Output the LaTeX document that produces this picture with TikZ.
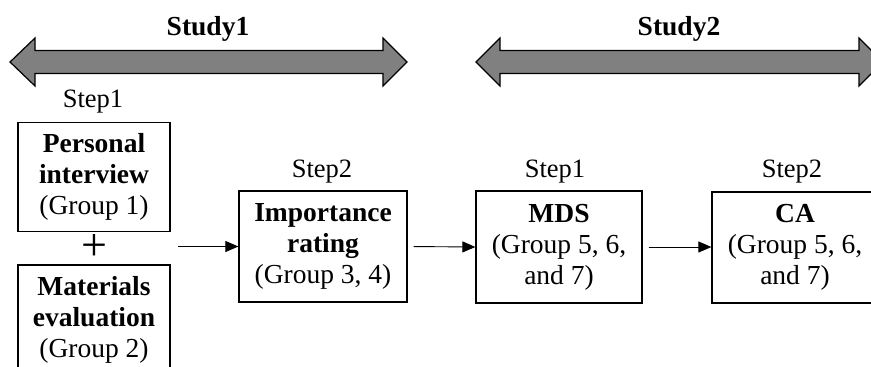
\documentclass[tikz,border=0pt]{standalone}
\usepackage{fontspec}
\setmainfont{Liberation Serif}
\usetikzlibrary{arrows.meta}
\begin{document}
\begin{tikzpicture}[x=1pt,y=-1pt,
  txt/.style={font=\fontsize{26.5}{31}\selectfont, inner sep=0pt},
  stepbox/.style={draw, line width=1.2pt, align=center, inner sep=0pt,
    font=\fontsize{27.5}{31}\selectfont, minimum height=110pt},
  flow/.style={line width=0.9pt, -{Triangle[length=13pt,width=11pt]}},
  bigarrow/.style={draw, line width=1.2pt, fill=black!50, line join=miter}
]
\useasboundingbox (0,0) rectangle (871,367);
\clip (0,0) rectangle (871,367);

% Study arrows
\draw[bigarrow] (10,62) -- (35,38) -- (35,50.5) -- (383,50.5) -- (383,38) -- (407,62)
  -- (383,86) -- (383,73.5) -- (35,73.5) -- (35,86) -- cycle;
\draw[bigarrow] (476,62) -- (500,38) -- (500,50.5) -- (859,50.5) -- (859,38) -- (883,62)
  -- (859,86) -- (859,73.5) -- (500,73.5) -- (500,86) -- cycle;
\node[txt, anchor=base, font=\fontsize{27.5}{31}\selectfont\bfseries] (study1) at (208,35) {Study1};
\node[txt, anchor=base, font=\fontsize{27.5}{31}\selectfont\bfseries] (study2) at (679,35) {Study2};

% Step labels
\node[txt, anchor=base] (s1a) at (93,107) {Step1};
\node[txt, anchor=base] (s2a) at (322,177) {Step2};
\node[txt, anchor=base] (s1b) at (555,177) {Step1};
\node[txt, anchor=base] (s2b) at (792,177) {Step2};

% Boxes
\node[stepbox, minimum width=152pt, minimum height=109pt] (pi) at (94,177)
  {\textbf{Personal}\\\textbf{interview}\\(Group 1)};
\node[txt, font=\fontsize{46}{46}\selectfont] (plus) at (94,248) {+};
\node[stepbox, minimum width=152pt, minimum height=109pt] (me) at (94,319.5)
  {\textbf{Materials}\\\textbf{evaluation}\\(Group 2)};
\node[stepbox, minimum width=168pt, minimum height=111pt] (ir) at (323,246.5)
  {\textbf{Importance}\\\textbf{rating}\\(Group 3, 4)};
\node[stepbox, minimum width=166pt, minimum height=112pt] (mds) at (559,247)
  {\textbf{MDS}\\(Group 5, 6,\\and 7)};
\node[stepbox, minimum width=166pt, minimum height=111pt] (ca) at (795,247.5)
  {\textbf{CA}\\(Group 5, 6,\\and 7)};

% Connectors
\coordinate (join) at (178,246.5);
\draw[flow] (join) -- (ir.west);
\draw[flow, shorten <=6pt] (ir.east) -- (mds.west);
\draw[flow, shorten <=6pt] (mds.east) -- (mds.east -| ca.west);
\end{tikzpicture}
\end{document}
